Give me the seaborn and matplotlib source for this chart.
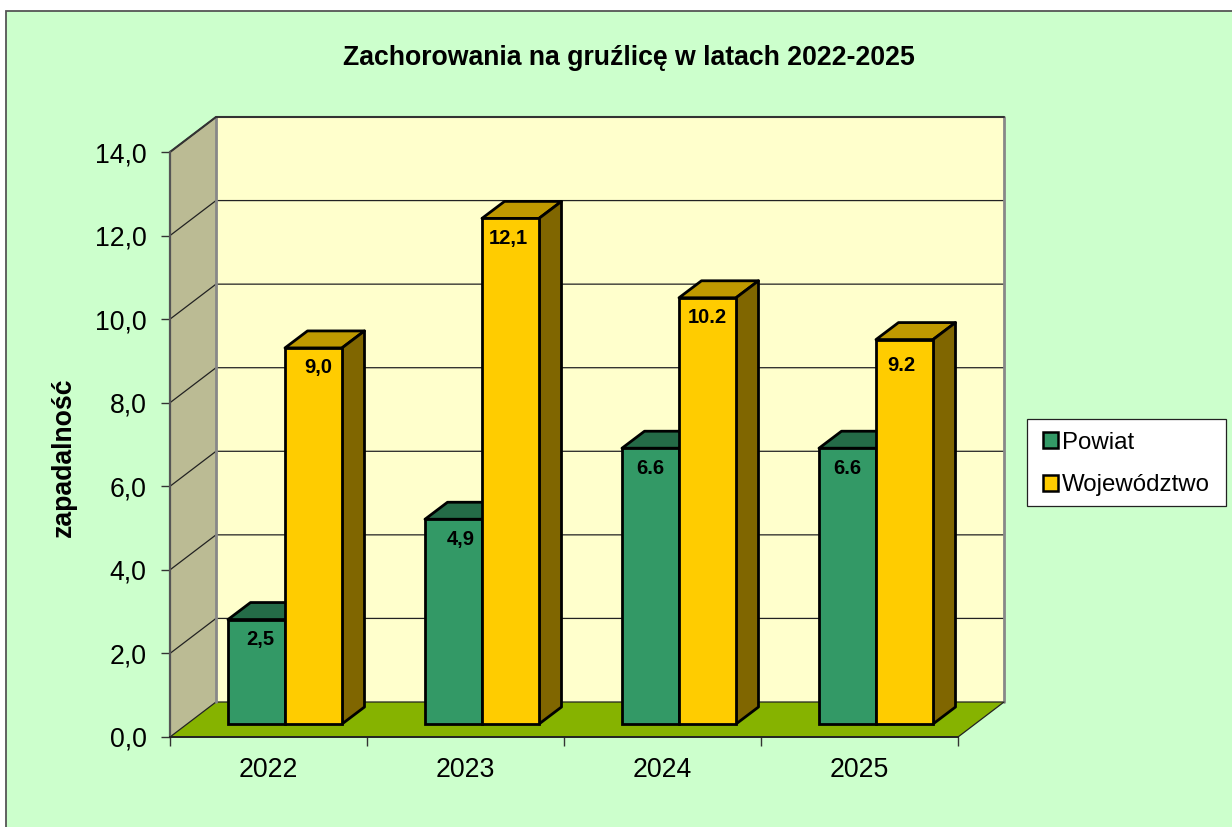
import matplotlib
matplotlib.use("Agg")
import matplotlib.pyplot as plt
from matplotlib.patches import Rectangle, Polygon
import pandas as pd
import seaborn as sns

years = ["2022", "2023", "2024", "2025"]
powiat = [2.5, 4.9, 6.6, 6.6]
wojewodztwo = [9.0, 12.1, 10.2, 9.2]
powiat_labels = ["2,5", "4,9", "6.6", "6.6"]
wojewodztwo_labels = ["9,0", "12,1", "10.2", "9.2"]
series_names = ["Powiat", "Województwo"]
yticks = [0, 2, 4, 6, 8, 10, 12, 14]
ytick_labels = ["0,0", "2,0", "4,0", "6,0", "8,0", "10,0", "12,0", "14,0"]

W, H = 1232, 827
sns.set_theme(style="white")
plt.rcParams["font.family"] = ["Liberation Sans", "DejaVu Sans"]

df = pd.DataFrame({
    "rok": years * 2,
    "seria": [series_names[0]] * 4 + [series_names[1]] * 4,
    "wartosc": powiat + wojewodztwo,
})

fig = plt.figure(figsize=(W / 100, H / 100), dpi=100, facecolor="white")
fig.add_artist(Rectangle((6 / W, -0.05), 1.1, 1.05 - 11 / H, transform=fig.transFigure,
                         facecolor="#CCFFCC", edgecolor="#555555", linewidth=1.3, zorder=-5))


def axes_at(left, right, top, bottom):
    return fig.add_axes([left / W, (H - bottom) / H, (right - left) / W, (bottom - top) / H])


L, R, T, B = 170, 958, 152, 737
ax = axes_at(L, R, T, B)
ax.patch.set_visible(False)
XMIN, XMAX, YMIN, YMAX = -0.5, 3.5, 0, 14
ax.set_xlim(XMIN, XMAX)
ax.set_ylim(YMIN, YMAX)
px_x = (XMAX - XMIN) / (R - L)
px_y = (YMAX - YMIN) / (B - T)

# chart box depth
dx, dy = 46 * px_x, 35 * px_y
ax.add_patch(Polygon([(XMIN + dx, dy), (XMAX + dx, dy), (XMAX + dx, YMAX + dy), (XMIN + dx, YMAX + dy)],
                     facecolor="#FFFFCC", edgecolor="none", clip_on=False, zorder=1))
ax.add_patch(Polygon([(XMIN, 0), (XMIN + dx, dy), (XMIN + dx, YMAX + dy), (XMIN, YMAX)],
                     facecolor="#BBBB94", edgecolor="none", clip_on=False, zorder=1))
ax.add_patch(Polygon([(XMIN, 0), (XMAX, 0), (XMAX + dx, dy), (XMIN + dx, dy)],
                     facecolor="#86B300", edgecolor="none", clip_on=False, zorder=1))
for t in yticks:
    ax.plot([XMIN, XMIN + dx, XMAX + dx], [t, t + dy, t + dy], color="#222222", lw=0.9,
            clip_on=False, zorder=2, solid_joinstyle="miter")
ax.plot([XMIN + dx, XMIN + dx], [dy, YMAX + dy], color="#888888", lw=2, clip_on=False, zorder=2)
ax.plot([XMAX + dx, XMAX + dx], [dy, YMAX + dy], color="#888888", lw=2, clip_on=False, zorder=2)
ax.plot([XMIN, XMIN + dx, XMAX + dx], [YMAX, YMAX + dy, YMAX + dy], color="#333333", lw=1.5,
        clip_on=False, zorder=2.1)
ax.plot([XMAX, XMAX + dx], [0, dy], color="#222222", lw=0.9, clip_on=False, zorder=2)

for s in ("top", "right"):
    ax.spines[s].set_visible(False)
ax.spines["left"].set_color("#555555")
ax.spines["left"].set_linewidth(1.6)
ax.spines["bottom"].set_color("#222222")
ax.spines["bottom"].set_linewidth(1.4)
ax.spines["left"].set_zorder(3)
ax.spines["bottom"].set_zorder(3)

ax.set_yticks(yticks)
ax.set_yticklabels(ytick_labels, fontsize=19.2, color="black")
ax.set_xticks([-0.5, 0.5, 1.5, 2.5, 3.5])
ax.set_xticklabels([])
ax.set_xticks(range(len(years)), minor=True)
ax.set_xticklabels(years, minor=True, fontsize=19.2, color="black")
ax.tick_params(axis="y", which="major", left=True, length=6.5, width=1, color="#333333", pad=10.5)
ax.tick_params(axis="x", which="major", bottom=True, length=6.5, width=1, color="#333333")
ax.tick_params(axis="x", which="minor", bottom=False, length=0, pad=14.5)
ax.set_xlabel("")
fig.text(64 / W, 1 - 457 / H, "zapadalność", rotation=90, fontsize=19.2, fontweight="bold",
         ha="center", va="center", color="black")
fig.text(629 / W, 1 - 58 / H, "Zachorowania na gruźlicę w latach 2022-2025", fontsize=19.2,
         fontweight="bold", ha="center", va="center", color="black")

# bars plane: shifted into the box depth
bx, by = 16.5, 13
axb = axes_at(L + bx, R + bx, T - by, B - by)
axb.patch.set_visible(False)
palette = {series_names[0]: "#339966", series_names[1]: "#FFCC00"}
sns.barplot(data=df, x="rok", y="wartosc", hue="seria", hue_order=series_names, palette=palette,
            width=114 / 197, gap=0, saturation=1, edgecolor="black", linewidth=2, ax=axb, zorder=3)
axb.set_xlim(XMIN, XMAX)
axb.set_ylim(YMIN, YMAX)
handles, labels = axb.get_legend_handles_labels()
axb.get_legend().remove()
axb.axis("off")

ddx, ddy = 22.5 * px_x, 17 * px_y
tops = {series_names[0]: "#246B47", series_names[1]: "#BF9900"}
sides = {series_names[0]: "#246B47", series_names[1]: "#806600"}
text_sets = [powiat_labels, wojewodztwo_labels]
# small hand placement of the value labels, in pixels
nudges_x = [[4, 7, 0, 0], [5, -2, 0, -3]]
nudges_y = [[0, 0, 0, 0], [0, 0, 0, 6]]
for name, cont, txts, nx, ny in zip(series_names, axb.containers, text_sets, nudges_x, nudges_y):
    for bar, txt, ox, oy in zip(cont, txts, nx, ny):
        x0, w, h = bar.get_x(), bar.get_width(), bar.get_height()
        x1 = x0 + w
        axb.add_patch(Polygon([(x0, h), (x1, h), (x1 + ddx, h + ddy), (x0 + ddx, h + ddy)],
                              facecolor=tops[name], edgecolor="black", linewidth=2, clip_on=False,
                              zorder=2.5, joinstyle="round"))
        axb.add_patch(Polygon([(x1, 0), (x1 + ddx, ddy), (x1 + ddx, h + ddy), (x1, h)],
                              facecolor=sides[name], edgecolor="black", linewidth=2, clip_on=False,
                              zorder=2.5, joinstyle="round"))
        bar.set_clip_on(False)
        axb.text(x0 + w / 2 + ox * px_x, h - (20 + oy) * px_y, txt, ha="center", va="center",
                 fontsize=14.5, fontweight="bold", color="black", zorder=5)

fig.add_artist(Rectangle((1026.5 / W, 1 - 505.5 / H), 199.5 / W, 86.5 / H, transform=fig.transFigure,
                         facecolor="white", edgecolor="#222222", linewidth=0.9, zorder=4))
leg = fig.legend(handles, labels, loc="center left", bbox_to_anchor=(1043 / W, 1 - 464 / H),
                 fontsize=17.3, frameon=False, handlelength=0.62, handleheight=0.62,
                 handletextpad=0.17, labelspacing=0.87, borderpad=0, borderaxespad=0,
                 labelcolor="black")
leg.set_zorder(5)
for h in leg.legend_handles:
    h.set_linewidth(1.8)
    h.set_edgecolor("black")

fig.savefig("out.png", dpi=100, facecolor=fig.get_facecolor())
